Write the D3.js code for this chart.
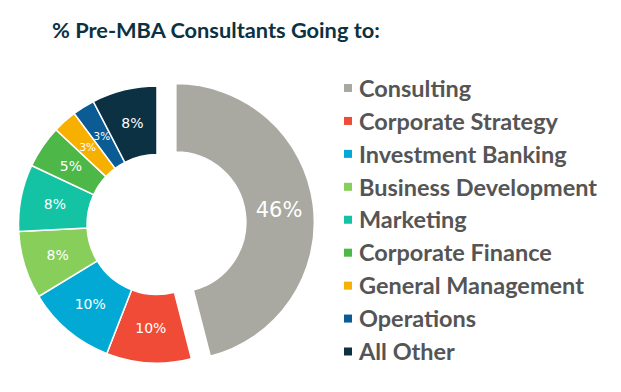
<!DOCTYPE html>
<html>
<head>
<meta charset="utf-8">
<script src="https://cdn.jsdelivr.net/npm/d3@7"></script>
<style>
  body { margin: 0; background: #fff; }
  svg { display: block; }
</style>
</head>
<body>
<svg id="chart" width="621" height="392"></svg>
<script>
// data
const categories = ["Consulting", "Corporate Strategy", "Investment Banking", "Business Development",
  "Marketing", "Corporate Finance", "General Management", "Operations", "All Other"];
const shares = [46.0, 9.9, 10.4, 7.9, 7.8, 5.0, 2.8, 2.6, 7.6];
const colors = ["#a9a9a2", "#f04b37", "#03a9d5", "#87cf5a", "#13c3a3", "#4db748", "#f7b000", "#0b5c94", "#0b3142"];

const svg = d3.select("#chart");
const cx = 157, cy = 224.5;
const outerR = 138.5, innerR = 70;

svg.append("text")
  .attr("class", "title")
  .attr("x", 52)
  .attr("y", 38)
  .attr("fill", "#0b3142")
  .style("font-family", "Lato, 'Open Sans', sans-serif")
  .style("font-weight", 700)
  .style("font-size", "20px")
  .text("% Pre-MBA Consultants Going to:");

// fit title to width
const title = svg.select(".title");
const tw = title.node().getComputedTextLength();
title.style("font-size", (20 * 328 / tw) + "px");

const pie = d3.pie().sort(null).value(d => d.value);
const arcs = pie(categories.map((c, i) => ({ name: c, value: shares[i], color: colors[i] })));

const arc = d3.arc().innerRadius(innerR).outerRadius(outerR);
const labelArc = d3.arc().innerRadius(104).outerRadius(104);

const g = svg.append("g").attr("transform", `translate(${cx},${cy})`);

const slice = g.selectAll("g.slice")
  .data(arcs)
  .enter()
  .append("g")
  .attr("class", "slice")
  .attr("transform", function (d) {
    if (d.index === 0) {
      const mid = (d.startAngle + d.endAngle) / 2;
      return `translate(${19 * Math.sin(mid)},${-19 * Math.cos(mid)})`;
    }
    return null;
  });

slice.append("path")
  .attr("d", arc)
  .attr("fill", d => d.data.color)
  .attr("stroke", "#fff")
  .attr("stroke-width", 1.5);

slice.append("text")
  .attr("transform", d => `translate(${labelArc.centroid(d)})`)
  .attr("text-anchor", "middle")
  .attr("dy", "0.36em")
  .attr("fill", "#fff")
  .style("font-family", "'DejaVu Sans', Verdana, sans-serif")
  .style("font-size", function (d) {
    if (d.index === 0) return "21px";
    if (d.data.value < 4) return "10.5px";
    return "14px";
  })
  .text(d => Math.round(d.data.value) + "%");

// legend
const legend = svg.append("g").attr("class", "legend");
const rowY = d3.scalePoint().domain(categories).range([88, 351.5]);

const rows = legend.selectAll("g")
  .data(categories)
  .enter()
  .append("g")
  .attr("transform", d => `translate(344,${rowY(d)})`);

rows.append("rect")
  .attr("x", 0)
  .attr("y", -4)
  .attr("width", 8)
  .attr("height", 8)
  .attr("fill", (d, i) => colors[i]);

const legendText = rows.append("text")
  .attr("x", 15)
  .attr("dy", "0.37em")
  .attr("fill", "#555555")
  .style("font-family", "Lato, 'Open Sans', sans-serif")
  .style("font-weight", 700)
  .style("font-size", "18px")
  .text(d => d);

// fit "Business Development" to ~238px
let widest = 0;
legendText.each(function () { widest = Math.max(widest, this.getComputedTextLength()); });
legendText.style("font-size", (18 * 238 / widest) + "px");
</script>
</body>
</html>
